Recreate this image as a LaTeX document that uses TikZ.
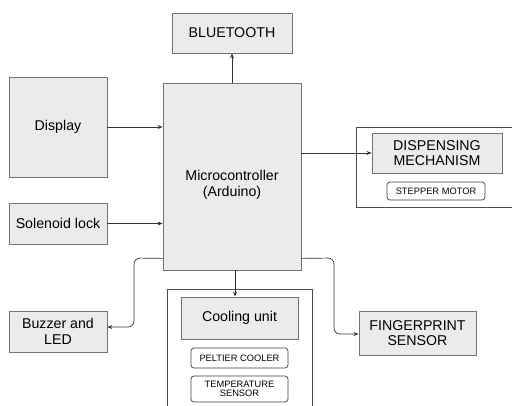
\documentclass[tikz,border=0pt]{standalone}
\usepackage{fontspec}
\setmainfont{Liberation Sans}
\usetikzlibrary{arrows.meta,calc,shadows}
\begin{document}
\begin{tikzpicture}[x=1pt,y=-1pt,
  blk/.style={draw=black!55,fill=black!8,line width=0.8pt,inner sep=0pt,align=center,
    drop shadow={shadow xshift=1.2pt,shadow yshift=-1.2pt,opacity=0.35}},
  sub/.style={draw=black!75,fill=white,rounded corners=3pt,line width=0.7pt,inner sep=0pt,align=center,font=\fontsize{9.3}{9.6}\selectfont},
  frame/.style={draw=black!70,line width=0.7pt},
  conn/.style={draw=black!80,line width=0.7pt,-{Stealth[length=5pt,width=4pt]}},
  big/.style={font=\fontsize{14.2}{15.5}\selectfont}]
\useasboundingbox (0,0) rectangle (512,405);
% frames
\draw[frame] (356,127) -- (520,127) (356,127) -- (356,207) -- (520,207);
\draw[frame] (167,410) -- (167,289) -- (312,289) -- (312,410);
% blocks
\node[blk,big,minimum width=120pt,minimum height=40pt] (bt) at (232,33) {BLUETOOTH};
\node[blk,big,minimum width=98pt,minimum height=100pt] (disp) at (58,127) {Display};
\node[blk,minimum width=138pt,minimum height=187pt] (mcu) at (232,176.5) {};
\node[big,align=center] (mcutext) at (232,185) {Microcontroller\\(Arduino)};
\node[blk,big,minimum width=130pt,minimum height=40pt] (dm) at (437,153) {DISPENSING\\MECHANISM};
\node[sub,minimum width=98pt,minimum height=18pt] (step) at (436,191) {STEPPER MOTOR};
\node[blk,big,minimum width=98pt,minimum height=41pt] (sol) at (58,223.5) {Solenoid lock};
\node[blk,big,minimum width=98pt,minimum height=41pt] (buz) at (58,331.5) {Buzzer and\\LED};
\node[blk,big,minimum width=117pt,minimum height=44pt] (fp) at (417.5,333) {FINGERPRINT\\SENSOR};
\node[blk,big,minimum width=117pt,minimum height=42pt] (cool) at (239.5,318) {Cooling unit};
\node[sub,minimum width=97pt,minimum height=20pt] (pelt) at (239.5,358) {PELTIER COOLER};
\node[sub,minimum width=97pt,minimum height=26pt] (temp) at (239.5,389) {TEMPERATURE\\SENSOR};
% connectors
\draw[conn] (mcu.north) -- (bt.south);
\draw[conn] (disp.east) -- (disp.east -| mcu.west);
\draw[conn] (mcu.east |- dm.west) -- (dm.west);
\draw[conn] (sol.east) -- (sol.east -| mcu.west);
\coordinate (ml) at ($(mcu.south west)+(0,-12)$);
\coordinate (mr) at ($(mcu.south east)+(0,-12)$);
\draw[conn,rounded corners=6pt] (ml) -- (134,258) -- (134,327) -- (buz.east |- 0,327);
\draw[conn,rounded corners=6pt] (mr) -- (334,258) -- (334,334) -- (fp.west |- 0,334);
\draw[conn] (mcu.south -| 235,0) -- (cool.north -| 235,0);
\end{tikzpicture}
\end{document}
